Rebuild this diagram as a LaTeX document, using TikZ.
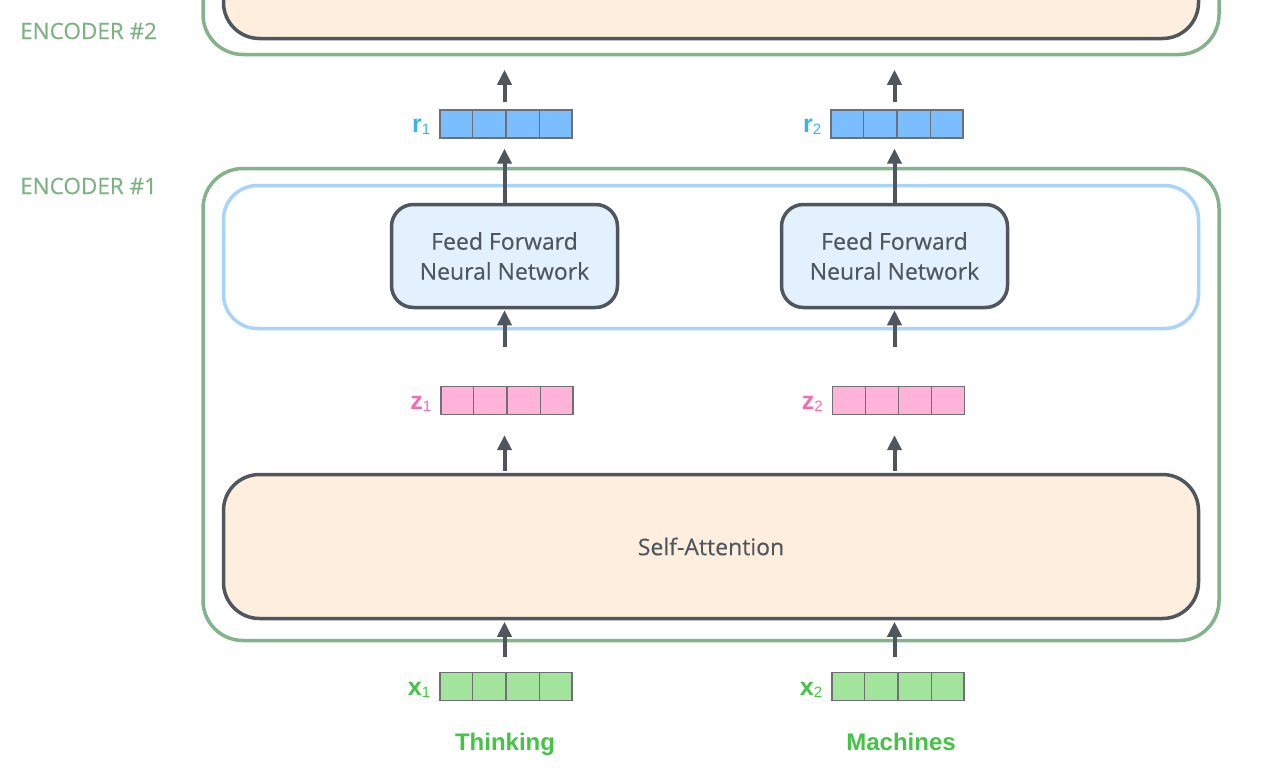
\documentclass[tikz,border=0pt]{standalone}
\usepackage{fontspec}
\setmainfont{Open Sans}
\newfontfamily\semif{Open Sans}[FakeBold=0.35]
\newfontfamily\arialf{Liberation Sans}
\usetikzlibrary{arrows.meta,calc}
\definecolor{encg}{HTML}{82B38A}
\definecolor{enctext}{HTML}{7DB283}
\definecolor{bluel}{HTML}{A8D4FA}
\definecolor{dark}{HTML}{50565E}
\definecolor{ffnfill}{HTML}{E3F0FD}
\definecolor{safill}{HTML}{FDEEDD}
\definecolor{rfill}{HTML}{7ABEFF}
\definecolor{zfill}{HTML}{FFB3D8}
\definecolor{xfill}{HTML}{A3E49C}
\definecolor{rtext}{HTML}{3CB4E6}
\definecolor{ztext}{HTML}{F06EB0}
\definecolor{xtext}{HTML}{44C444}
\definecolor{celld}{HTML}{6E7075}
\newcommand\vecbox[3]{%
  \node[vecnode, fill=#3] (#1) at (#2) {};
  \foreach \i in {1,2,3}
    \draw[celldiv] ($(#1.north west)!\i/4!(#1.north east)$) -- ($(#1.south west)!\i/4!(#1.south east)$);
}
\newcommand\veclabel[2]{{\arialf\fontsize{25}{25}\selectfont\bfseries #1\raisebox{-2pt}{\fontsize{15}{15}\selectfont\mdseries #2}}}
\begin{document}
\begin{tikzpicture}[x=1pt,y=-1pt,
  encbox/.style={draw=encg, line width=3.5pt, rounded corners=40pt, rectangle, inner sep=0pt},
  ffbox/.style={draw=bluel, line width=3.5pt, rounded corners=34pt, rectangle, inner sep=0pt},
  sabox/.style={draw=dark, fill=safill, line width=3.5pt, rounded corners=36pt, rectangle, inner sep=0pt,
     font=\semif\fontsize{23}{23}\selectfont, text=dark},
  ffnbox/.style={draw=dark, fill=ffnfill, line width=3.5pt, rounded corners=22pt, rectangle, inner sep=0pt,
     minimum width=226pt, minimum height=103pt, align=center, font=\semif\fontsize{23}{30}\selectfont, text=dark},
  vecnode/.style={draw=celld, line width=1.3pt, rectangle, minimum width=132pt, minimum height=28pt, inner sep=0pt},
  celldiv/.style={draw=celld, line width=1.3pt},
  arr/.style={draw=dark, line width=4pt, -{Triangle[length=15pt,width=14pt]}},
  enclabel/.style={text=enctext, font=\semif\fontsize{22.5}{22.5}\selectfont, anchor=west, inner sep=0pt},
  word/.style={text=xtext, font=\arialf\fontsize{24}{24}\selectfont\bfseries, inner sep=0pt, anchor=base},
  lab/.style={anchor=east, inner sep=0pt}
]
\useasboundingbox (0,0) rectangle (1268,771);
\clip (0,0) rectangle (1268,771);
\fill[white] (0,0) rectangle (1268,771);

% encoder #2 (cut off at top)
\node[encbox, minimum width=1016pt, minimum height=472pt] (enc2) at (711,-181.5) {};
\node[sabox, minimum width=975pt, minimum height=144pt] (sa2) at (711,-33.5) {};

% encoder #1
\node[encbox, minimum width=1016pt, minimum height=472pt] (enc1) at (711,404.5) {};
\node[ffbox, minimum width=975pt, minimum height=143pt] (ffl) at (711,257) {};
\node[ffnbox] (ffn1) at (504.5,256) {Feed Forward\\Neural Network};
\node[ffnbox] (ffn2) at (894.5,256) {Feed Forward\\Neural Network};
\node[sabox, minimum width=975pt, minimum height=144pt] (sa) at (711,546.5) {Self-Attention};

\node[enclabel] (e2lab) at (20,31) {ENCODER \#2};
\node[enclabel] (e1lab) at (20,186) {ENCODER \#1};

% vectors
\vecbox{r1}{506,124}{rfill}
\vecbox{r2}{897,124}{rfill}
\vecbox{z1}{507,400.5}{zfill}
\vecbox{z2}{898.5,400.5}{zfill}
\vecbox{x1}{506,686.5}{xfill}
\vecbox{x2}{898,686.5}{xfill}

\node[lab, text=rtext] (r1l) at ($(r1.west)+(-9,3)$) {\veclabel{r}{1}};
\node[lab, text=rtext] (r2l) at ($(r2.west)+(-9,3)$) {\veclabel{r}{2}};
\node[lab, text=ztext] (z1l) at ($(z1.west)+(-9,3)$) {\veclabel{z}{1}};
\node[lab, text=ztext] (z2l) at ($(z2.west)+(-9,3)$) {\veclabel{z}{2}};
\node[lab, text=xtext] (x1l) at ($(x1.west)+(-9,3)$) {\veclabel{x}{1}};
\node[lab, text=xtext] (x2l) at ($(x2.west)+(-9,3)$) {\veclabel{x}{2}};

\node[word] (w1) at (505,750) {Thinking};
\node[word] (w2) at (901,750) {Machines};

% arrows
\foreach \f/\r/\z/\x in {ffn1/r1/z1/x1, ffn2/r2/z2/x2}{
  \draw[arr, shorten <=7pt, shorten >=13.5pt] (\f.north |- \r.north) -- (\f.north |- enc2.south);
  \draw[arr, shorten >=10pt] (\f.north) -- (\f.north |- \r.south);
  \draw[arr, shorten <=39pt, shorten >=1pt] (\f.south |- \z.north) -- (\f.south);
  \draw[arr, shorten <=2pt, shorten >=20pt] (\f.south |- sa.north) -- (\f.south |- \z.south);
  \draw[arr, shorten <=15pt, shorten >=1.5pt] (\f.south |- \x.north) -- (\f.south |- sa.south);
}
\end{tikzpicture}
\end{document}
